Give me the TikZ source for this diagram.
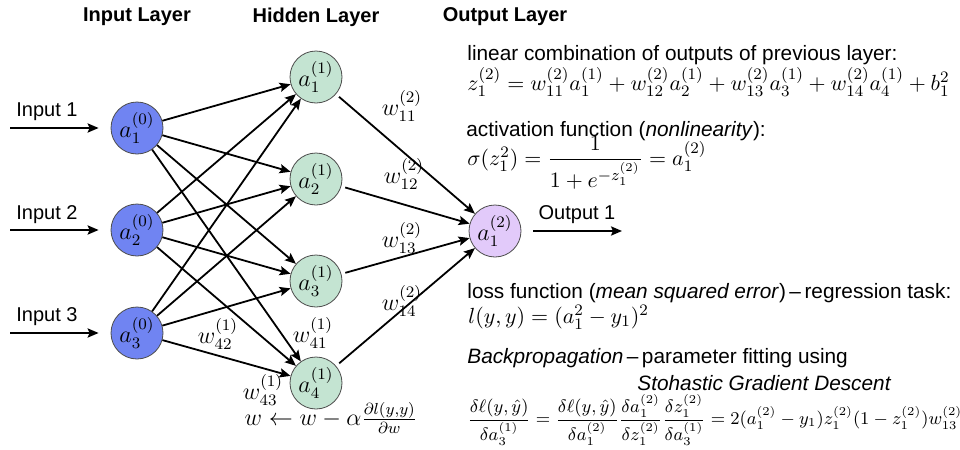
\documentclass[tikz,border=0pt]{standalone}
\usepackage{amsmath}
\usepackage[no-math]{fontspec}
\setmainfont{Liberation Sans}
\usetikzlibrary{arrows.meta, positioning}
\definecolor{inblue}{RGB}{112,132,242}
\definecolor{hidgreen}{RGB}{196,228,210}
\definecolor{outlilac}{RGB}{226,202,250}

\begin{document}
\begin{tikzpicture}[x=0.5pt, y=-0.5pt,
    neuron/.style={circle, draw=black!70, line width=0.4pt, minimum size=26pt, inner sep=0pt, font=\large},
    arrow/.style={line width=0.9pt,->,>={Stealth[length=5.5pt,width=4.6pt,inset=1pt]}},
    wlabel/.style={font=\large, inner sep=0pt},
    title/.style={font=\bfseries},
    note/.style={anchor=west, inner sep=0pt, font=\fontsize{10.4}{12}\selectfont},
    eq/.style={anchor=west, inner sep=0pt, font=\fontsize{11.2}{13}\selectfont}]
    \useasboundingbox (0,0) rectangle (960,450);
    % layer titles
    \node [title] (tin) at (137,17) {Input Layer};
    \node [title] (thid) at (316,17) {Hidden Layer};
    \node [title] (tout) at (505,17) {Output Layer};
    % neurons
    \node [neuron, fill=inblue] (a1) at (137,128) {$a_1^{(0)}$};
    \node [neuron, fill=inblue] (a2) at (137,230) {$a_2^{(0)}$};
    \node [neuron, fill=inblue] (a3) at (137,333) {$a_3^{(0)}$};
    \node [neuron, fill=hidgreen] (h1) at (316,77) {$a_1^{(1)}$};
    \node [neuron, fill=hidgreen] (h2) at (316,179) {$a_2^{(1)}$};
    \node [neuron, fill=hidgreen] (h3) at (316,281) {$a_3^{(1)}$};
    \node [neuron, fill=hidgreen] (h4) at (316,383) {$a_4^{(1)}$};
    \node [neuron, fill=outlilac] (o1) at (495,231) {$a_1^{(2)}$};
    % inputs and output
    \coordinate (in1) at (10,128);
    \coordinate (in2) at (10,230);
    \coordinate (in3) at (10,333);
    \coordinate (out1) at (622,231);
    \node (lin1) at (47,112) {Input 1};
    \node (lin2) at (47,215) {Input 2};
    \node (lin3) at (47,317) {Input 3};
    \node (lout1) at (577,215) {Output 1};
    \draw [arrow, shorten >=6pt] (in1) -- (a1);
    \draw [arrow, shorten >=6pt] (in2) -- (a2);
    \draw [arrow, shorten >=6pt] (in3) -- (a3);
    \draw [arrow, shorten <=6pt] (o1) -- (out1);
    % input -> hidden
    \draw [arrow] (a1) -- (h1);
    \draw [arrow] (a1) -- (h2);
    \draw [arrow] (a1) -- (h3);
    \draw [arrow] (a1) -- (h4);
    \draw [arrow] (a2) -- (h1);
    \draw [arrow] (a2) -- (h2);
    \draw [arrow] (a2) -- (h3);
    \draw [arrow] (a2) -- (h4);
    \draw [arrow] (a3) -- (h1);
    \draw [arrow] (a3) -- (h2);
    \draw [arrow] (a3) -- (h3);
    \draw [arrow] (a3) -- (h4);
    % hidden -> output
    \draw [arrow, shorten <=2pt] (h1) -- (o1);
    \draw [arrow, shorten <=2pt] (h2) -- (o1);
    \draw [arrow, shorten <=2pt] (h3) -- (o1);
    \draw [arrow, shorten <=2pt] (h4) -- (o1);
    % weights
    \node [wlabel] (w11) at (402,106) {$w_{11}^{(2)}$};
    \node [wlabel] (w12) at (404,174) {$w_{12}^{(2)}$};
    \node [wlabel] (w13) at (402,238) {$w_{13}^{(2)}$};
    \node [wlabel] (w14) at (402,301) {$w_{14}^{(2)}$};
    \node [wlabel] (w42) at (218,334) {$w_{42}^{(1)}$};
    \node [wlabel] (w41) at (313,333) {$w_{41}^{(1)}$};
    \node [wlabel] (w43) at (263,390) {$w_{43}^{(1)}$};
    \node [wlabel] (upd) at (331,418) {$w \leftarrow w - \alpha \frac{\partial l(y,y)}{\partial w}$};
    % equations on the right
    \node [note] (lin) at (467,55) {linear combination of outputs of previous layer:};
    \node [eq] (zeq) at (467,82) {$z_1^{(2)} = w_{11}^{(2)} a_1^{(1)} + w_{12}^{(2)} a_2^{(1)} + w_{13}^{(2)} a_3^{(1)} + w_{14}^{(2)} a_4^{(1)} + b_1^2$};
    \node [note] (act) at (466,131) {activation function (\textit{nonlinearity}):};
    \node [eq] (sig) at (467,163) {$\sigma(z_1^2) = \dfrac{1}{1+e^{-z_1^{(2)}}} = a_1^{(2)}$};
    \node [note] (loss) at (467,293) {loss function (\textit{mean squared error})\,--\,regression task:};
    \node [eq] (leq) at (468,317) {$l(y,y) = (a_1^2 - y_1)^2$};
    \node [note] (bp) at (467,358) {\textit{Backpropagation}\,--\,parameter fitting using};
    \node [note] (sgd) at (637,383) {\textit{Stohastic Gradient Descent}};
    \node [eq, font=\fontsize{8.9}{10}\selectfont] (grad) at (467,420) {$\dfrac{\delta\ell(y,\hat{y})}{\delta a_3^{(1)}} = \dfrac{\delta\ell(y,\hat{y})}{\delta a_1^{(2)}} \dfrac{\delta a_1^{(2)}}{\delta z_1^{(2)}} \dfrac{\delta z_1^{(2)}}{\delta a_3^{(1)}} = 2(a_1^{(2)} - y_1) z_1^{(2)} (1 - z_1^{(2)}) w_{13}^{(2)}$};
\end{tikzpicture}
\end{document}
